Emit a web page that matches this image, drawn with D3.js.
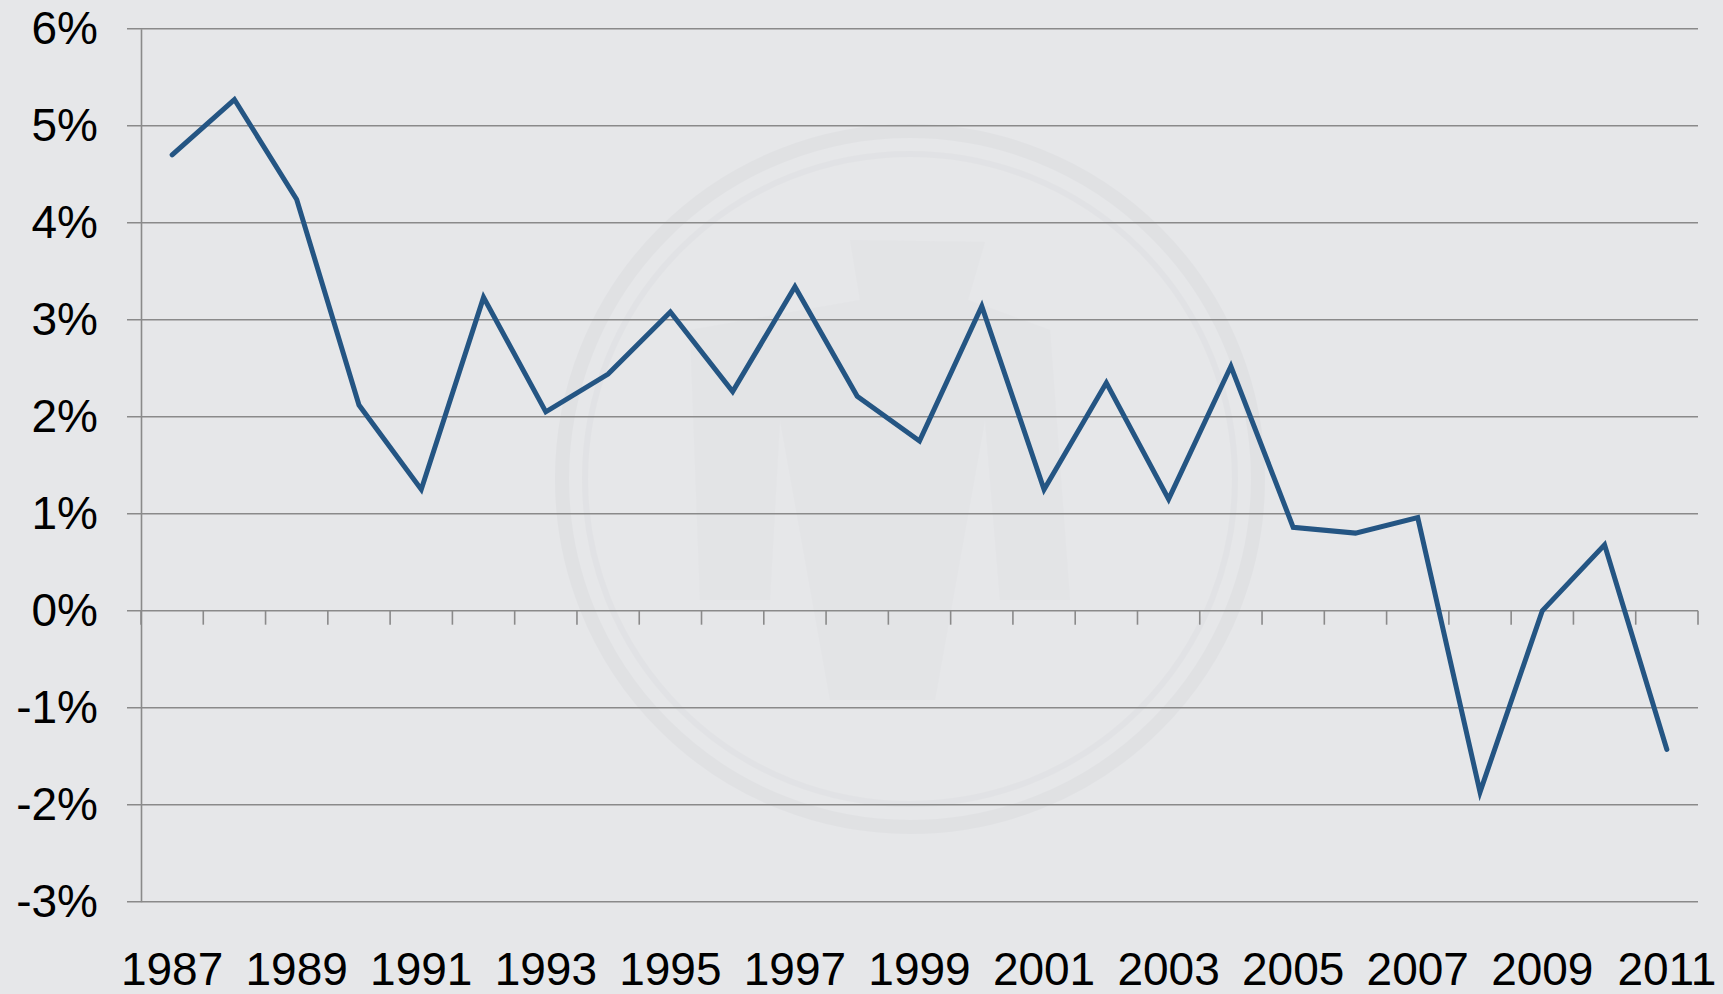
<!DOCTYPE html>
<html>
<head>
<meta charset="utf-8">
<script src="https://cdn.jsdelivr.net/npm/d3@7"></script>
<style>
  body { margin: 0; background: #e6e7e9; }
  svg { display: block; }
</style>
</head>
<body>
<svg width="1723" height="994"></svg>
<script>
// yearly values, in percent
let years = d3.range(1987, 2012)
let values = [4.70, 5.27, 4.24, 2.12, 1.25, 3.23, 2.05, 2.44, 3.08, 2.26,
              3.34, 2.21, 1.75, 3.14, 1.25, 2.35, 1.15, 2.52, 0.86, 0.80,
              0.96, -1.87, 0.0, 0.68, -1.43]
let yTicks = [-3, -2, -1, 0, 1, 2, 3, 4, 5, 6]
let yearLabels = years.filter(y => y % 2 === 1)

let svg = d3.select("svg")

svg.append("rect")
  .attr("width", 1723)
  .attr("height", 994)
  .style("fill", "#e6e7e9")

let plotLeft = 141, plotRight = 1698, plotTop = 28.7, plotBottom = 901.7

let x = d3.scaleBand()
  .domain(years)
  .range([plotLeft, plotRight])
  .padding(0)

let y = d3.scaleLinear()
  .domain([-3, 6])
  .range([plotBottom, plotTop])

// faint watermark behind the plot
let wm = svg.append("g").style("opacity", 0.35)
wm.append("circle")
  .attr("cx", 910).attr("cy", 479).attr("r", 348)
  .style("fill", "none")
  .style("stroke", "#d6d7da")
  .style("stroke-width", 14)
wm.append("circle")
  .attr("cx", 910).attr("cy", 479).attr("r", 325)
  .style("fill", "none")
  .style("stroke", "#dadbde")
  .style("stroke-width", 6)
wm.append("path")
  .attr("d", "M850,240 L985,242 L968,300 L1050,330 L1070,600 L1000,600 L985,420 L935,700 L830,700 L780,420 L770,600 L700,600 L690,330 L860,300 Z")
  .style("fill", "#d9dadd")
  .style("opacity", 0.5)

// gridlines
svg.append("g")
  .selectAll("line")
  .data(yTicks)
  .join("line")
  .attr("x1", plotLeft - 14)
  .attr("x2", plotRight)
  .attr("y1", d => y(d))
  .attr("y2", d => y(d))
  .style("stroke", "#8a8a8a")
  .style("stroke-width", 1.6)

// y axis
let yAxis = svg.append("g")
  .attr("transform", `translate(${plotLeft},0)`)
  .call(d3.axisLeft(y).tickValues(yTicks).tickSize(0).tickPadding(43).tickFormat(d => d + "%"))
yAxis.select(".domain")
  .style("stroke", "#8a8a8a")
  .style("stroke-width", 1.6)
yAxis.selectAll("text")
  .style("font-family", "'Liberation Sans', Arial, sans-serif")
  .style("font-size", "46px")
  .style("fill", "#000")

// category ticks along the zero line
let bounds = years.map(d => x(d)).concat([plotRight])
svg.append("g")
  .selectAll("line")
  .data(bounds)
  .join("line")
  .attr("x1", d => d)
  .attr("x2", d => d)
  .attr("y1", y(0))
  .attr("y2", y(0) + 14)
  .style("stroke", "#8a8a8a")
  .style("stroke-width", 1.6)

// year labels
svg.append("g")
  .selectAll("text")
  .data(yearLabels)
  .join("text")
  .attr("x", d => x(d) + x.bandwidth() / 2)
  .attr("y", 985)
  .attr("text-anchor", "middle")
  .style("font-family", "'Liberation Sans', Arial, sans-serif")
  .style("font-size", "46px")
  .style("fill", "#000")
  .text(d => d)

// the line
let line = d3.line()
  .x((d, i) => x(years[i]) + x.bandwidth() / 2)
  .y(d => y(d))

svg.append("path")
  .datum(values)
  .attr("d", line)
  .style("fill", "none")
  .style("stroke", "#245583")
  .style("stroke-width", 5)
  .style("stroke-linejoin", "miter")
  .style("stroke-linecap", "round")
</script>
</body>
</html>
